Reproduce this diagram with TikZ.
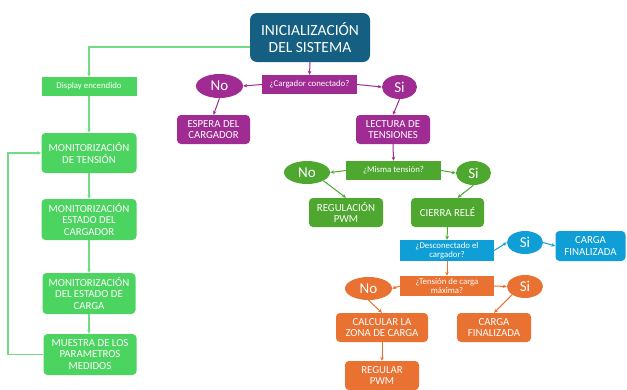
\documentclass[tikz,border=0pt]{standalone}
\usepackage{fontspec}
\setmainfont{Carlito}
\usepackage{xcolor}
\usetikzlibrary{shapes.geometric, arrows.meta}

\definecolor{azulinicio}{HTML}{156082}
\definecolor{magenta}{HTML}{A02B93}
\definecolor{verdeoscuro}{HTML}{4EA72E}
\definecolor{azul}{HTML}{0F9ED5}
\definecolor{naranja}{HTML}{E97132}
\definecolor{verdeclaro}{HTML}{4CD460}
\definecolor{lineaverde}{HTML}{72DC82}

\begin{document}
\begin{tikzpicture}[x=1pt, y=-1pt,
    caja/.style={rectangle, rounded corners=4pt, text=white, align=center, inner sep=0pt, font=\fontsize{10.8}{11.8}\selectfont},
    pregunta/.style={rectangle, text=white, align=center, inner sep=0pt, font=\fontsize{8.8}{9.5}\selectfont},
    ovalo/.style={ellipse, text=white, inner sep=0pt, font=\fontsize{15}{15}\selectfont},
    flecha/.style={line width=1pt, -{Stealth[length=4pt, width=3.5pt]}}]
    \useasboundingbox (0,0) rectangle (627,389);

    % Define the nodes with specific positions
    \node[caja, fill=azulinicio, minimum width=120pt, minimum height=49pt, rounded corners=7pt, font=\fontsize{15.5}{17.5}\selectfont] (inicio) at (310, 37.5) {INICIALIZACIÓN\\DEL SISTEMA};

    % Left column
    \node[pregunta, fill=verdeclaro, minimum width=95pt, minimum height=19pt] (display) at (89, 86.5) {Display encendido};
    \node[caja, fill=verdeclaro, minimum width=95pt, minimum height=40pt] (montension) at (89, 153) {MONITORIZACIÓN\\DE TENSIÓN};
    \node[caja, fill=verdeclaro, minimum width=95pt, minimum height=41pt] (moncargador) at (89, 219.5) {MONITORIZACIÓN\\ESTADO DEL\\CARGADOR};
    \node[caja, fill=verdeclaro, minimum width=93pt, minimum height=41pt] (moncarga) at (89, 293.5) {MONITORIZACIÓN\\DEL ESTADO DE\\CARGA};
    \node[caja, fill=verdeclaro, minimum width=93pt, minimum height=41pt] (muestra) at (90, 354.5) {MUESTRA DE LOS\\PARAMETROS\\MEDIDOS};
    \coordinate (lazo) at (8, 250);

    % Charger check
    \node[pregunta, fill=magenta, minimum width=95pt, minimum height=19pt] (cargador) at (309.5, 84.5) {¿Cargador conectado?};
    \node[ovalo, fill=magenta, minimum width=47pt, minimum height=24pt] (nocargador) at (219.5, 86) {No};
    \node[ovalo, fill=magenta, minimum width=35pt, minimum height=24pt] (sicargador) at (399.5, 87) {Si};
    \node[caja, fill=magenta, minimum width=73pt, minimum height=29pt] (espera) at (213.5, 129.5) {ESPERA DEL\\CARGADOR};
    \node[caja, fill=magenta, minimum width=74pt, minimum height=29pt] (lectura) at (393, 129.5) {LECTURA DE\\TENSIONES};

    % Voltage check
    \node[pregunta, fill=verdeoscuro, minimum width=95pt, minimum height=19pt] (misma) at (393.5, 170.5) {¿Misma tensión?};
    \node[ovalo, fill=verdeoscuro, minimum width=46pt, minimum height=23pt] (nomisma) at (307, 172.5) {No};
    \node[ovalo, fill=verdeoscuro, minimum width=35pt, minimum height=24pt] (simisma) at (473.5, 173) {Si};
    \node[caja, fill=verdeoscuro, minimum width=74pt, minimum height=29pt] (regulacion) at (346, 212.5) {REGULACIÓN\\PWM};
    \node[caja, fill=verdeoscuro, minimum width=73pt, minimum height=29pt] (cierra) at (447.5, 212.5) {CIERRA RELÉ};

    % Disconnect check
    \node[pregunta, fill=azul, minimum width=94pt, minimum height=21pt] (desconectado) at (447, 250.5) {¿Desconectado el\\cargador?};
    \node[ovalo, fill=azul, minimum width=36pt, minimum height=23pt] (sidesc) at (525, 242.5) {Si};
    \node[caja, fill=azul, minimum width=70pt, minimum height=30pt] (finalazul) at (590.5, 246) {CARGA\\FINALIZADA};

    % Maximum voltage check
    \node[pregunta, fill=naranja, minimum width=94pt, minimum height=20pt] (tensionmax) at (447, 286) {¿Tensión de carga\\máxima?};
    \node[ovalo, fill=naranja, minimum width=47pt, minimum height=23pt] (notension) at (368.5, 288.5) {No};
    \node[ovalo, fill=naranja, minimum width=36pt, minimum height=23pt] (sitension) at (525, 286.5) {Si};
    \node[caja, fill=naranja, minimum width=92pt, minimum height=29pt] (calcular) at (382, 327.5) {CALCULAR LA\\ZONA DE CARGA};
    \node[caja, fill=naranja, minimum width=74pt, minimum height=29pt] (finalnaranja) at (494, 327.5) {CARGA\\FINALIZADA};
    \node[caja, fill=naranja, minimum width=74pt, minimum height=29pt] (regular) at (382, 375.5) {REGULAR\\PWM};

    % Draw the edges between nodes
    \draw[flecha, lineaverde, line width=1.6pt] ([yshift=-9.5pt]inicio.west) -| (display.north);
    \draw[flecha, lineaverde, line width=1.6pt] (display.south) -- (montension.north);
    \draw[flecha, lineaverde, line width=1.6pt] (montension.south) -- (moncargador.north);
    \draw[flecha, lineaverde, line width=1.6pt] (moncargador.south) -- (moncarga.north);
    \draw[flecha, lineaverde, line width=1.6pt] (moncarga.south) -- (moncarga.south |- muestra.north);
    \draw[flecha, lineaverde, line width=1.6pt] (muestra.west) -| (lazo) |- (montension.west);

    \draw[flecha, magenta] (inicio.south) -- (cargador.north);
    \draw[flecha, magenta] (cargador.west) -- (nocargador.east);
    \draw[flecha, magenta] (cargador.east) -- (sicargador.west);
    \draw[flecha, magenta] (nocargador.south) -- (espera.north);
    \draw[flecha, magenta] (sicargador.south) -- (lectura.north);

    \draw[flecha, magenta] (lectura.south) -- (misma.north);
    \draw[flecha, verdeoscuro] (misma.west) -- (nomisma.east);
    \draw[flecha, verdeoscuro] (misma.east) -- (simisma.west);
    \draw[flecha, verdeoscuro] (nomisma.south east) -- (regulacion.north);
    \draw[flecha, verdeoscuro] (simisma.south) -- ([xshift=10pt]cierra.north);

    \draw[flecha, verdeoscuro] (cierra.south) -- (desconectado.north);
    \draw[flecha, azul] (desconectado.east) -- (sidesc.west);
    \draw[flecha, azul] (sidesc.east) -- (finalazul.west);

    \draw[flecha, naranja] (desconectado.south) -- (tensionmax.north);
    \draw[flecha, naranja] (tensionmax.west) -- (notension.east);
    \draw[flecha, naranja] (tensionmax.east) -- (sitension.west);
    \draw[flecha, naranja] (notension.south) -- (calcular.north);
    \draw[flecha, naranja] (sitension.south west) -- (finalnaranja.north);
    \draw[flecha, naranja] (calcular.south) -- (regular.north);
\end{tikzpicture}
\end{document}
